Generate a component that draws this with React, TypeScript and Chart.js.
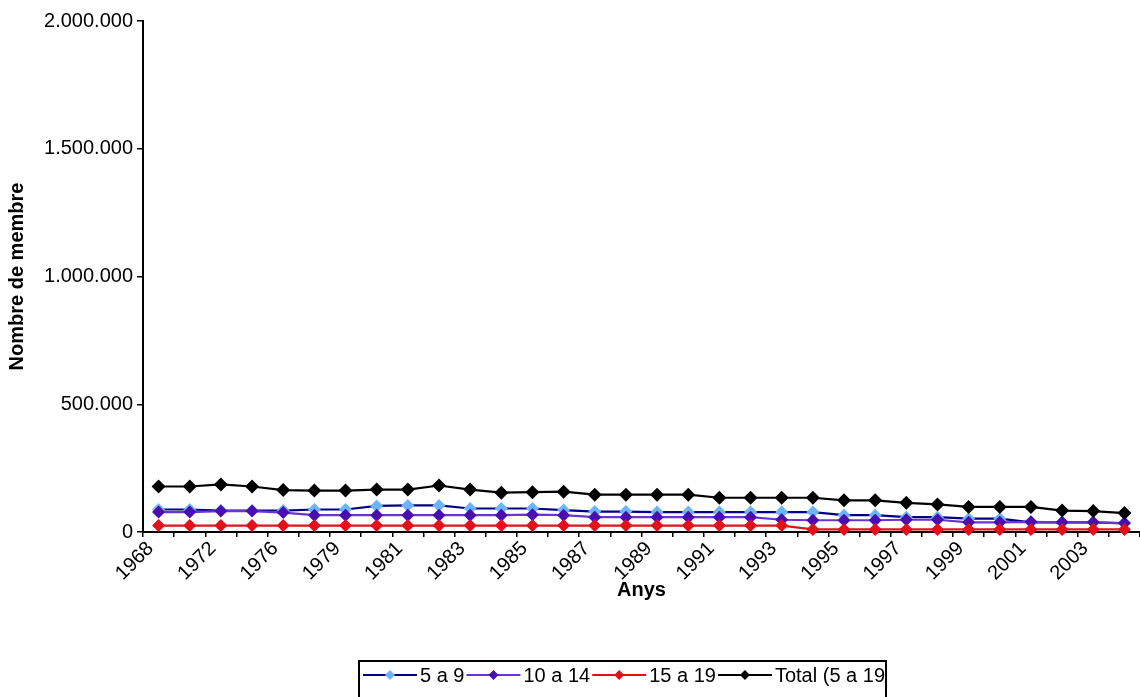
import React, { useEffect, useRef } from 'react';
import { Chart, registerables } from 'chart.js';

Chart.register(...registerables);

const years: string[] = [
  '1968', '1970', '1972', '1974', '1976', '1978', '1979', '1980',
  '1981', '1982', '1983', '1984', '1985', '1986', '1987', '1988',
  '1989', '1990', '1991', '1992', '1993', '1994', '1995', '1996',
  '1997', '1998', '1999', '2000', '2001', '2002', '2003', '2004',
];

const age5to9: number[] = [
  88000, 88000, 84000, 84000, 84000, 88000, 88000, 102000,
  104000, 104000, 92000, 92000, 92000, 86000, 80000, 80000,
  78000, 78000, 78000, 78000, 78000, 78000, 66000, 66000,
  58000, 58000, 52000, 52000, 38000, 38000, 38000, 34000,
];

const age10to14: number[] = [
  78000, 78000, 82000, 82000, 76000, 66000, 66000, 66000,
  66000, 66000, 66000, 66000, 68000, 66000, 58000, 58000,
  58000, 58000, 58000, 58000, 48000, 46000, 46000, 46000,
  48000, 48000, 38000, 38000, 40000, 38000, 38000, 35000,
];

const age15to19: number[] = [
  25000, 25000, 25000, 25000, 25000, 25000, 25000, 25000,
  25000, 25000, 25000, 25000, 25000, 25000, 25000, 25000,
  25000, 25000, 25000, 25000, 25000, 10000, 10000, 10000,
  10000, 10000, 10000, 10000, 10000, 10000, 10000, 10000,
];

const total5to19: number[] = [
  178000, 178000, 186000, 178000, 164000, 162000, 162000, 166000,
  166000, 182000, 166000, 154000, 156000, 158000, 146000, 146000,
  146000, 146000, 134000, 134000, 134000, 134000, 124000, 124000,
  114000, 108000, 98000, 98000, 98000, 84000, 82000, 74000,
];

const yTicks: number[] = [0, 500000, 1000000, 1500000, 2000000];

const seriesNames: string[] = ['5 a 9', '10 a 14', '15 a 19', 'Total (5 a 19'];
const lineColors: string[] = ['#000080', '#6a35d0', '#e3101c', '#000000'];
const markerColors: string[] = ['#6cb4ff', '#4a0db0', '#e3101c', '#000000'];

const FONT = '"Liberation Sans", Arial, sans-serif';

function fmt(v: number): string {
  return String(Math.round(v)).replace(/\B(?=(\d{3})+(?!\d))/g, '.');
}

const boxLegend = {
  id: 'boxLegend',
  afterDraw(chart: any) {
    const ctx = chart.ctx as CanvasRenderingContext2D;
    ctx.save();
    ctx.font = `20px ${FONT}`;
    ctx.textBaseline = 'middle';
    ctx.textAlign = 'left';
    const yMid = 675;
    const startX = 363;
    const lineLen = 54;
    let x = startX;
    const positions: { x0: number; x1: number; tx: number; w: number }[] = [];
    seriesNames.forEach((name) => {
      const w = ctx.measureText(name).width;
      positions.push({ x0: x, x1: x + lineLen, tx: x + lineLen + 3, w });
      x = x + lineLen + 3 + w + 2;
    });
    const right = x - 1;
    ctx.fillStyle = '#ffffff';
    ctx.fillRect(startX - 4, 661, right - (startX - 4), 40);
    ctx.strokeStyle = '#000';
    ctx.lineWidth = 2;
    ctx.strokeRect(startX - 4, 661, right - (startX - 4), 40);
    seriesNames.forEach((name, i) => {
      const p = positions[i];
      ctx.strokeStyle = lineColors[i];
      ctx.lineWidth = 2;
      ctx.beginPath();
      ctx.moveTo(p.x0, yMid);
      ctx.lineTo(p.x1, yMid);
      ctx.stroke();
      const cx = (p.x0 + p.x1) / 2;
      const r = 5;
      ctx.fillStyle = markerColors[i];
      ctx.beginPath();
      ctx.moveTo(cx - r, yMid);
      ctx.lineTo(cx, yMid - r);
      ctx.lineTo(cx + r, yMid);
      ctx.lineTo(cx, yMid + r);
      ctx.closePath();
      ctx.fill();
      ctx.fillStyle = '#000';
      ctx.fillText(name, p.tx, yMid + 1);
    });
    ctx.restore();
  },
};

export default function App() {
  const ref = useRef<HTMLCanvasElement | null>(null);

  useEffect(() => {
    document.body.style.margin = '0';
    const canvas = ref.current;
    if (!canvas) return;
    Chart.defaults.font.family = FONT;
    Chart.defaults.color = '#000';

    const seriesData = [age5to9, age10to14, age15to19, total5to19];
    const datasets = seriesData.map((d, i) => ({
      label: seriesNames[i],
      data: d,
      borderColor: lineColors[i],
      backgroundColor: markerColors[i],
      pointBackgroundColor: markerColors[i],
      pointBorderColor: markerColors[i],
      pointBorderWidth: 0,
      pointStyle: 'rectRot' as const,
      pointRadius: i === 3 ? 7 : 6.5,
      borderWidth: 2.2,
      tension: 0,
      fill: false,
      clip: false as const,
      order: 4 - i,
    }));

    const chart = new Chart(canvas, {
      type: 'line',
      data: { labels: years, datasets },
      plugins: [boxLegend],
      options: {
        responsive: false,
        animation: false,
        layout: { autoPadding: false, padding: { left: 0, right: 0, top: 21, bottom: 95 } },
        plugins: {
          legend: { display: false },
          tooltip: { enabled: false },
          title: { display: false },
        },
        scales: {
          x: {
            type: 'category',
            offset: true,
            grid: {
              display: true,
              drawOnChartArea: false,
              drawTicks: true,
              tickLength: 5,
              offset: true,
              color: '#000',
              lineWidth: 1.5,
            },
            border: { display: true, color: '#000', width: 2 },
            ticks: {
              autoSkip: false,
              maxRotation: 45,
              minRotation: 45,
              padding: 0,
              labelOffset: -8,
              color: '#000',
              font: { size: 20, family: FONT },
              callback: (_v: any, idx: number) => (idx % 2 === 0 ? years[idx] : ''),
            },
            title: {
              display: true,
              text: 'Anys',
              color: '#000',
              font: { size: 20, weight: 'bold', family: FONT },
              padding: { top: 0, bottom: 0 },
            },
            afterFit: (s: any) => {
              s.height = 70;
              s.paddingLeft = 0;
              s.paddingRight = 0;
            },
          },
          y: {
            min: 0,
            max: 2000000,
            afterBuildTicks: (s: any) => {
              s.ticks = yTicks.map((v) => ({ value: v }));
            },
            grid: {
              display: true,
              drawOnChartArea: false,
              drawTicks: true,
              tickLength: 6,
              color: '#000',
              lineWidth: 1.5,
            },
            border: { display: true, color: '#000', width: 2 },
            ticks: {
              padding: 4,
              color: '#000',
              font: { size: 20, family: FONT },
              callback: (v: any) => fmt(Number(v)),
            },
            title: {
              display: true,
              text: 'Nombre de membre',
              color: '#000',
              font: { size: 20, weight: 'bold', family: FONT },
              padding: { top: 5, bottom: 0 },
            },
            afterFit: (s: any) => {
              s.width = 143;
            },
          },
        },
      },
    });

    return () => chart.destroy();
  }, []);

  return (
    <div style={{ width: 1140, height: 697 }}>
      <canvas ref={ref} width={1140} height={697} style={{ display: 'block' }} />
    </div>
  );
}
